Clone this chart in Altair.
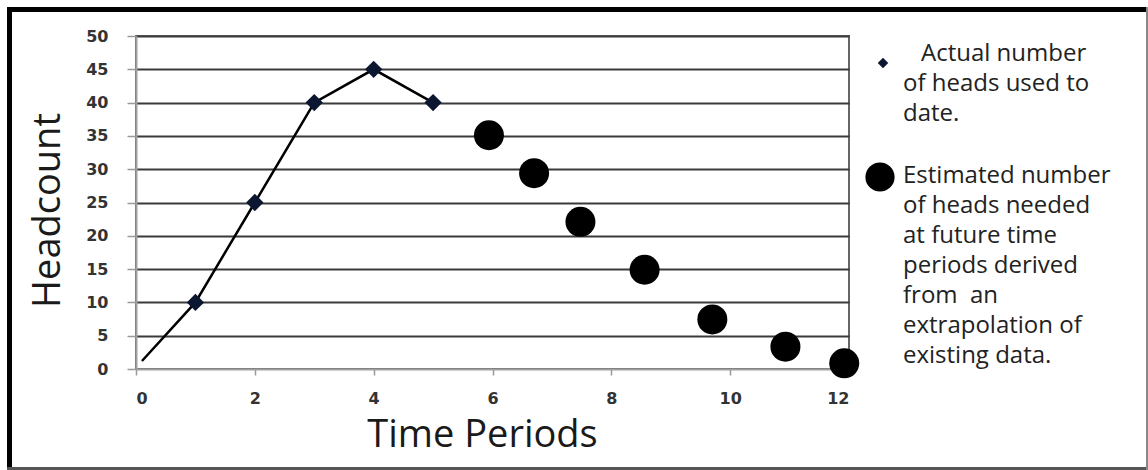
import altair as alt
import pandas as pd

# ---- data ----
actual_line_x = [0.1, 1, 2, 3, 4, 5]
actual_line_y = [1.2, 10, 25, 40, 45, 40]
actual_marker_x = [1, 2, 3, 4, 5]
actual_marker_y = [10, 25, 40, 45, 40]
estimated_x = [5.94, 6.70, 7.48, 8.56, 9.70, 10.93, 11.92]
estimated_y = [35.1, 29.4, 22.1, 14.9, 7.45, 3.35, 0.85]
x_ticks = [0, 2, 4, 6, 8, 10, 12]
y_ticks = [0, 5, 10, 15, 20, 25, 30, 35, 40, 45, 50]
legend_actual_first = "Actual number"
legend_actual_rest = ["of heads used to", "date."]
legend_estimated_lines = ["Estimated number", "of heads needed", "at future time",
                          "periods derived", "from\u00a0 an", "extrapolation of",
                          "existing data."]

line_df = pd.DataFrame({"x": actual_line_x, "y": actual_line_y})
marker_df = pd.DataFrame({"x": actual_marker_x, "y": actual_marker_y})
est_df = pd.DataFrame({"x": estimated_x, "y": estimated_y})
one = pd.DataFrame({"k": [0]})

FONT = "Open Sans"
LABEL_FONT = "DejaVu Sans"

X = alt.X("x:Q", scale=alt.Scale(domain=[0, 12], nice=False, zero=False),
          axis=alt.Axis(values=x_ticks, title="Time Periods", grid=False,
                        tickSize=6, tickColor="#999999", tickWidth=1.5,
                        domainColor="#a0a0a0", domainWidth=2,
                        labelFont=LABEL_FONT, labelFontSize=16, labelFontWeight="bold",
                        labelColor="#333333", labelPadding=15,
                        titleFont=FONT, titleFontSize=38, titleFontWeight="normal",
                        titleColor="#1a1a1a", titlePadding=10, titleX=346))
Y = alt.Y("y:Q", scale=alt.Scale(domain=[0, 50], nice=False),
          axis=alt.Axis(values=y_ticks, title="Headcount", grid=True,
                        gridColor="#3a3a3a", gridWidth=2,
                        gridOpacity=alt.condition("datum.value == 0", alt.value(0), alt.value(1)),
                        tickSize=9, tickColor="#999999", tickWidth=1.5,
                        domainColor="#a0a0a0", domainWidth=2,
                        labelFont=LABEL_FONT, labelFontSize=16, labelFontWeight="bold",
                        labelColor="#333333", labelPadding=19,
                        titleFont=FONT, titleFontSize=38, titleFontWeight="normal",
                        titleColor="#1a1a1a", titlePadding=18, titleY=174))

line = alt.Chart(line_df).mark_line(color="black", strokeWidth=2.5).encode(x=X, y=Y)
diamonds = alt.Chart(marker_df).mark_point(shape="diamond", filled=True, size=300,
                                           color="#0b1631", opacity=1).encode(x=X, y=Y)
circles = alt.Chart(est_df).mark_circle(size=900, color="black", opacity=1).encode(x=X, y=Y)

# legend (drawn as decoration to the right of the plot)
leg_sym1 = alt.Chart(one).mark_point(shape="diamond", filled=True, size=110,
                                     color="#0b1631", opacity=1).encode(
    x=alt.value(747), y=alt.value(27))
leg_sym2 = alt.Chart(one).mark_circle(size=855, color="black", opacity=1).encode(
    x=alt.value(744), y=alt.value(141))
leg_txt1a = alt.Chart(one).mark_text(text=legend_actual_first, font=FONT, fontSize=24,
                                     align="left", baseline="alphabetic",
                                     color="#222222").encode(
    x=alt.value(785), y=alt.value(25))
leg_txt1b = alt.Chart(one).mark_text(text=legend_actual_rest, font=FONT, fontSize=24,
                                     lineHeight=30, align="left", baseline="alphabetic",
                                     color="#222222").encode(
    x=alt.value(767), y=alt.value(55))
leg_txt2 = alt.Chart(one).mark_text(text=legend_estimated_lines, font=FONT, fontSize=24,
                                    lineHeight=30, align="left", baseline="alphabetic",
                                    color="#222222").encode(
    x=alt.value(767), y=alt.value(147))

# outer frame
frame_top = alt.Chart(one).mark_rule(color="black", strokeWidth=5).encode(
    x=alt.value(-129), x2=alt.value(1012), y=alt.value(-26.5))
frame_left = alt.Chart(one).mark_rule(color="black", strokeWidth=5).encode(
    x=alt.value(-126.5), y=alt.value(-29), y2=alt.value(434))
frame_bottom = alt.Chart(one).mark_rule(color="#555555", strokeWidth=3).encode(
    x=alt.value(-129), x2=alt.value(1012), y=alt.value(432.5))
frame_right = alt.Chart(one).mark_rule(color="#888888", strokeWidth=2).encode(
    x=alt.value(1011), y=alt.value(-29), y2=alt.value(434))

chart = alt.layer(
    line, diamonds, circles,
    leg_sym1, leg_sym2, leg_txt1a, leg_txt1b, leg_txt2,
    frame_top, frame_left, frame_bottom, frame_right,
).properties(
    width=713, height=333,
    autosize=alt.AutoSizeParams(type="none"),
    padding={"left": 136, "top": 36, "right": 299, "bottom": 101},
    background="white",
).configure_view(stroke="#666666", strokeWidth=2)

chart.save("out.html", embed_options={"renderer": "svg", "actions": False})
